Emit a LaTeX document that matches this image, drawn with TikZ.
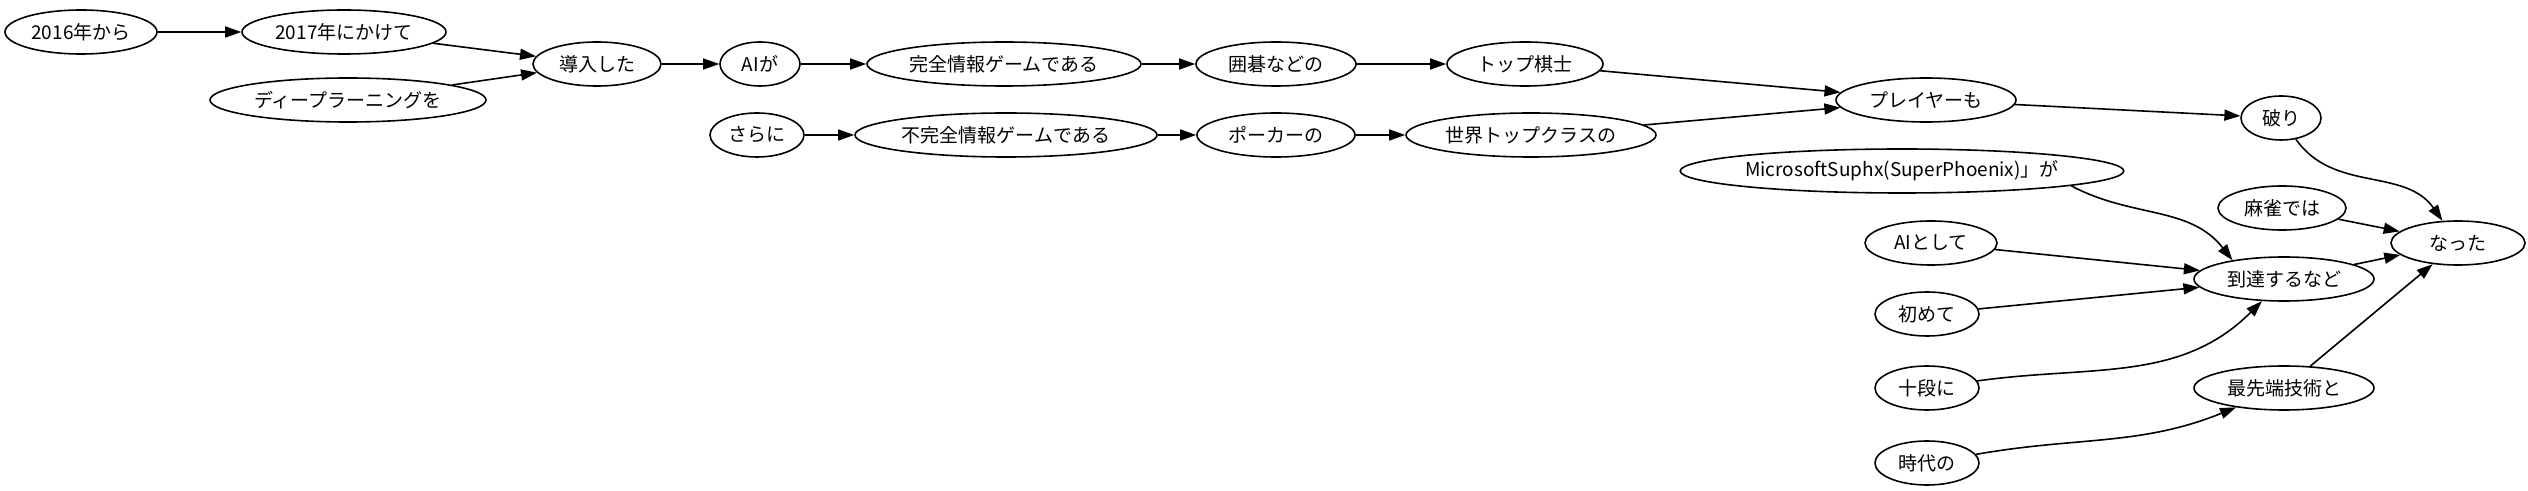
\documentclass[tikz,border=0pt]{standalone}
\usepackage{fontspec}
\setmainfont{Noto Sans CJK JP}
\usetikzlibrary{shapes, positioning, arrows.meta}

\begin{document}
\begin{tikzpicture}[x=0.5pt, y=-0.5pt, line width=0.8pt,
        word/.style={ellipse, draw, inner sep=0pt, minimum height=22pt, font=\fontsize{9.5}{11}\selectfont},
        >={Triangle[length=8pt, width=5.5pt]}]
        \useasboundingbox (0, 0) rectangle (2528, 491);

        \node[word, minimum width=76pt] (from2016) at (81, 32) {2016年から};
        \node[word, minimum width=102pt] (upto2017) at (344, 32) {2017年にかけて};
        \node[word, minimum width=138pt] (deep) at (348, 100) {ディープラーニングを};
        \node[word, minimum width=64pt] (intro) at (597, 64) {導入した};
        \node[word, minimum width=40pt] (aiga) at (760, 64) {AIが};
        \node[word, minimum width=137pt] (kanzen) at (1004, 64) {完全情報ゲームである};
        \node[word, minimum width=80pt] (igo) at (1276, 64) {囲碁などの};
        \node[word, minimum width=78pt] (kishi) at (1525, 64) {トップ棋士};
        \node[word, minimum width=47pt] (sarani) at (757, 135) {さらに};
        \node[word, minimum width=151pt] (fukanzen) at (1006, 135) {不完全情報ゲームである};
        \node[word, minimum width=79pt] (poker) at (1276, 135) {ポーカーの};
        \node[word, minimum width=125pt] (sekai) at (1531, 135) {世界トップクラスの};
        \node[word, minimum width=90pt] (player) at (1926, 100) {プレイヤーも};
        \node[word, minimum width=40pt] (yaburi) at (2281, 118) {破り};
        \node[word, minimum width=201pt] (suphx) at (1902, 171) {MicrosoftSuphx(SuperPhoenix)」が};
        \node[word, minimum width=64pt] (mahjong) at (2282, 208) {麻雀では};
        \node[word, minimum width=67pt] (natta) at (2458, 243) {なった};
        \node[word, minimum width=66pt] (asai) at (1931, 243) {AIとして};
        \node[word, minimum width=90pt] (touta) at (2284, 279) {到達するなど};
        \node[word, minimum width=52pt] (hajimete) at (1927, 314) {初めて};
        \node[word, minimum width=52pt] (judan) at (1927, 388) {十段に};
        \node[word, minimum width=90pt] (saisentan) at (2284, 388) {最先端技術と};
        \node[word, minimum width=52pt] (jidai) at (1927, 463) {時代の};

        \draw[->] (from2016) to (upto2017);
        \draw[->] (upto2017) to (intro);
        \draw[->] (deep) to (intro);
        \draw[->] (intro) to (aiga);
        \draw[->] (aiga) to (kanzen);
        \draw[->] (kanzen) to (igo);
        \draw[->] (igo) to (kishi);
        \draw[->] (kishi) to (player);
        \draw[->] (sarani) to (fukanzen);
        \draw[->] (fukanzen) to (poker);
        \draw[->] (poker) to (sekai);
        \draw[->] (sekai) to (player);
        \draw[->] (player) to (yaburi);
        \draw[->] (yaburi) to[out=-55, in=125] (natta);
        \draw[->] (mahjong) to (natta);
        \draw[->] (touta) to (natta);
        \draw[->] (saisentan) to (natta);
        \draw[->] (suphx.-5) to[out=-28, in=128] (touta.160);
        \draw[->] (asai) to (touta);
        \draw[->] (hajimete) to (touta);
        \draw[->] (judan) to[out=8, in=-135] (touta);
        \draw[->] (jidai) to[out=10, in=-158] (saisentan);
    \end{tikzpicture}
\end{document}
